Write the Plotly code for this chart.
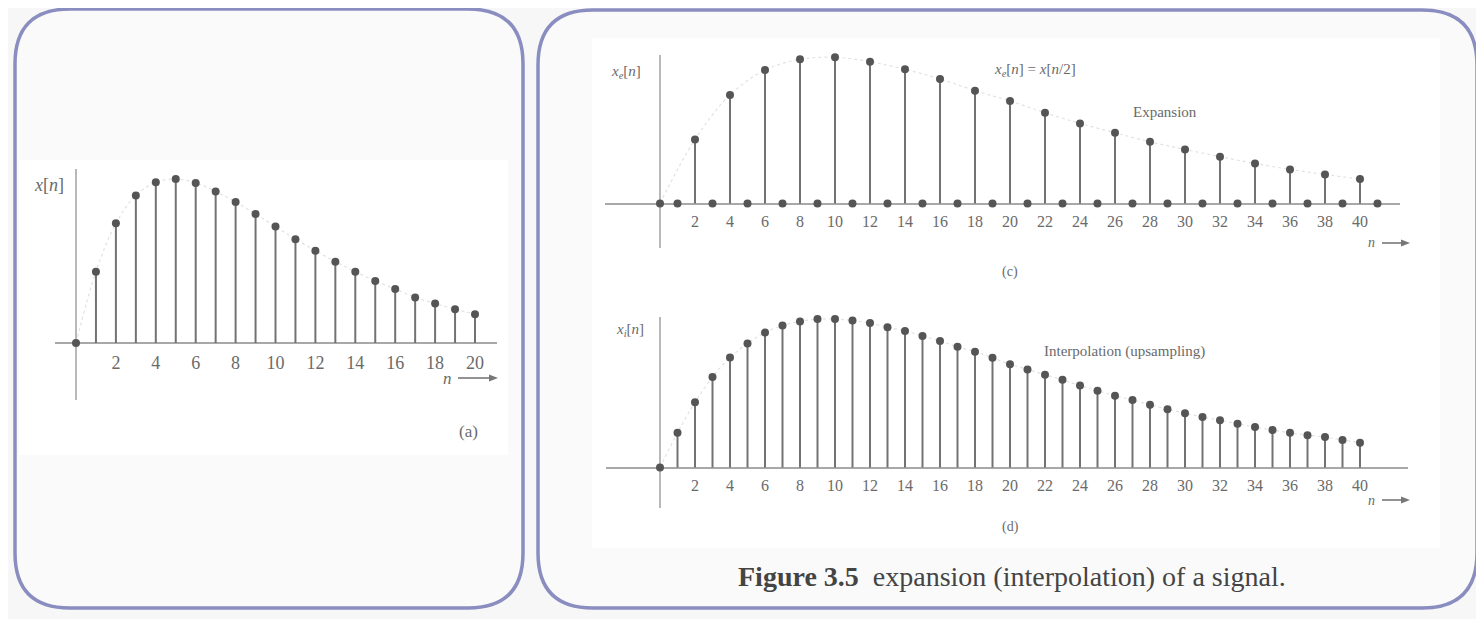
import plotly.graph_objects as go

# The page body keeps an 8 px margin, so the figure is sized to the window minus it
OFF = 8
W, H = 1484 - 2 * OFF, 627 - 2 * OFF

# ---------------- data ----------------
n_a = list(range(0, 21))
x_a = [0, 4.35, 7.30, 9.00, 9.80, 10.0, 9.76, 9.24, 8.60, 7.86, 7.10,
       6.33, 5.63, 4.96, 4.35, 3.78, 3.29, 2.78, 2.41, 2.06, 1.76]

n_c = list(range(0, 42))
x_c = [0, 0, 4.38, 0, 7.42, 0, 9.13, 0, 9.86, 0, 10.0, 0, 9.70, 0, 9.18, 0,
       8.52, 0, 7.72, 0, 7.01, 0, 6.21, 0, 5.48, 0, 4.84, 0, 4.22, 0, 3.70, 0,
       3.20, 0, 2.74, 0, 2.33, 0, 1.99, 0, 1.67, 0]

n_d = list(range(0, 41))
x_d = [0, 2.34, 4.39, 6.09, 7.41, 8.36, 9.09, 9.57, 9.84, 10.0, 10.0,
       9.91, 9.73, 9.45, 9.20, 8.86, 8.52, 8.14, 7.80, 7.39, 6.95,
       6.61, 6.25, 5.91, 5.52, 5.18, 4.84, 4.55, 4.23, 3.93, 3.66,
       3.41, 3.18, 2.95, 2.73, 2.52, 2.34, 2.18, 2.05, 1.86, 1.66]

ticks_a = list(range(2, 21, 2))
ticks_cd = list(range(2, 41, 2))
ticklabels_a = [str(t) for t in ticks_a]
ticklabels_cd = [str(t) for t in ticks_cd]

# ---------------- styling / geometry ----------------
SERIF = "Liberation Serif"
STEM = "#727272"
DOT = "#555555"
AXIS = "#a8a8a8"
TXT = "#6a6a6a"
ENV = "#e2e2e2"

panels = {
    # origin px, scale px/unit, x-domain px, y-domain px (window pixels)
    "a": dict(ox=76, oy=343, sx=19.95, sy=16.4, xd=(55, 497), yd=(169, 400), xs="x", ys="y"),
    "c": dict(ox=660, oy=203.5, sx=17.5, sy=14.62, xd=(605, 1400), yd=(55, 248), xs="x2", ys="y2"),
    "d": dict(ox=660, oy=467.5, sx=17.5, sy=14.84, xd=(606, 1408), yd=(317, 508), xs="x3", ys="y3"),
}


def px(xp):
    return (xp - OFF) / W


def py(yp):
    return 1 - (yp - OFF) / H


fig = go.Figure()


def stems(n, v, p, env_n=None, env_v=None):
    if env_n is not None:
        fig.add_trace(go.Scatter(x=env_n, y=env_v, mode="lines",
                                 line=dict(color=ENV, width=1.2, dash="dot", shape="spline"),
                                 xaxis=p["xs"], yaxis=p["ys"], hoverinfo="skip",
                                 showlegend=False, cliponaxis=False))
    sx, sy = [], []
    for k, val in zip(n, v):
        if val != 0:
            sx += [k, k, None]
            sy += [0, val, None]
    fig.add_trace(go.Scatter(x=sx, y=sy, mode="lines",
                             line=dict(color=STEM, width=2),
                             xaxis=p["xs"], yaxis=p["ys"], hoverinfo="skip",
                             showlegend=False, cliponaxis=False))
    fig.add_trace(go.Scatter(x=n, y=v, mode="markers",
                             marker=dict(color=DOT, size=8),
                             xaxis=p["xs"], yaxis=p["ys"],
                             showlegend=False, cliponaxis=False))


stems(n_a, x_a, panels["a"], env_n=n_a, env_v=x_a)
env_c_n = [k for k, v in zip(n_c, x_c) if k % 2 == 0 and k <= 40]
env_c_v = [v for k, v in zip(n_c, x_c) if k % 2 == 0 and k <= 40]
stems(n_c, x_c, panels["c"], env_n=env_c_n, env_v=env_c_v)
stems(n_d, x_d, panels["d"], env_n=n_d, env_v=x_d)

layout_axes = {}
for key, (name_x, name_y), tv, tt, fs in [
    ("a", ("xaxis", "yaxis"), ticks_a, ticklabels_a, 18),
    ("c", ("xaxis2", "yaxis2"), ticks_cd, ticklabels_cd, 16),
    ("d", ("xaxis3", "yaxis3"), ticks_cd, ticklabels_cd, 16),
]:
    p = panels[key]
    x0, x1 = p["xd"]
    y0, y1 = p["yd"]
    xr = [(x0 - p["ox"]) / p["sx"], (x1 - p["ox"]) / p["sx"]]
    yr = [(p["oy"] - y1) / p["sy"], (p["oy"] - y0) / p["sy"]]
    layout_axes[name_x] = dict(
        domain=[px(x0), px(x1)], range=xr, anchor="free", position=py(p["oy"]),
        showline=True, linecolor=AXIS, linewidth=2, showgrid=False, zeroline=False,
        tickmode="array", tickvals=tv, ticktext=tt, ticks="", ticklabelstandoff=3,
        tickfont=dict(family=SERIF, size=fs, color=TXT), fixedrange=True,
        layer="below traces",
    )
    layout_axes[name_y] = dict(
        domain=[py(y1), py(y0)], range=yr, anchor="free", position=px(p["ox"]),
        showline=True, linecolor="#b8b8b8", linewidth=1.5, showgrid=False,
        zeroline=False, showticklabels=False, ticks="", fixedrange=True,
        layer="below traces",
    )


def path_of(points, close=True):
    s = ""
    for item in points:
        cmd, coords = item[0], item[1:]
        c = []
        for i in range(0, len(coords), 2):
            c.append(f"{px(coords[i]):.5f},{py(coords[i + 1]):.5f}")
        s += cmd + " " + " ".join(c) + " "
    return s + ("Z" if close else "")


def rounded(x0, y0, x1, y1, r):
    return path_of([
        ("M", x0 + r, y0), ("L", x1 - r, y0), ("Q", x1, y0, x1, y0 + r),
        ("L", x1, y1 - r), ("Q", x1, y1, x1 - r, y1), ("L", x0 + r, y1),
        ("Q", x0, y1, x0, y1 - r), ("L", x0, y0 + r), ("Q", x0, y0, x0 + r, y0),
    ])


BORDER = "#8a8dbf"
ARROW = "#777777"
shapes = [
    dict(type="path", path=rounded(15, 9, 523, 608, 55), xref="paper", yref="paper",
         line=dict(color=BORDER, width=3.5), fillcolor="#fafafa", layer="below"),
    dict(type="path", path=rounded(538, 10, 1477, 608, 55), xref="paper", yref="paper",
         line=dict(color=BORDER, width=3.5), fillcolor="#fafafa", layer="below"),
    dict(type="rect", x0=px(19), x1=px(508), y0=py(455), y1=py(160), xref="paper",
         yref="paper", line=dict(width=0), fillcolor="white", layer="below"),
    dict(type="rect", x0=px(592), x1=px(1440), y0=py(548), y1=py(38), xref="paper",
         yref="paper", line=dict(width=0), fillcolor="white", layer="below"),
]


def arrow_shapes(x_tail, x_head, y, hl=9, hw=3.5):
    return [
        dict(type="line", x0=px(x_tail), x1=px(x_head - hl + 1), y0=py(y), y1=py(y),
             xref="paper", yref="paper", line=dict(color=ARROW, width=1.6)),
        dict(type="path", path=path_of([("M", x_head, y), ("L", x_head - hl, y - hw),
                                        ("L", x_head - hl, y + hw)]),
             xref="paper", yref="paper", line=dict(width=0), fillcolor=ARROW),
    ]


shapes += arrow_shapes(458, 498, 378)
shapes += arrow_shapes(1382, 1410, 243)
shapes += arrow_shapes(1382, 1410, 500)


def ann(x, y, text, size=16, color=TXT, xanchor="center", **kw):
    return dict(x=px(x), y=py(y), xref="paper", yref="paper", text=text, showarrow=False,
                xanchor=xanchor, yanchor="middle",
                font=dict(family=SERIF, size=size, color=color), **kw)


annotations = [
    # panel (a)
    ann(49, 185, "<i>x</i>[<i>n</i>]", size=18),
    ann(447, 378, "<i>n</i>", size=17),
    ann(468, 432, "(a)", size=17),
    # panel (c)
    ann(626, 72, "<i>x</i><sub><i>e</i></sub>[<i>n</i>]", size=15),
    ann(1035, 70, "<i>x</i><sub><i>e</i></sub>[<i>n</i>] = <i>x</i>[<i>n</i>/2]", size=15),
    ann(1165, 112, "Expansion", size=15),
    ann(1371, 243, "<i>n</i>", size=14),
    ann(1010, 272, "(c)", size=14),
    # panel (d)
    ann(630, 330, "<i>x</i><sub><i>i</i></sub>[<i>n</i>]", size=15),
    ann(1124, 351, "Interpolation (upsampling)", size=15),
    ann(1371, 500, "<i>n</i>", size=14),
    ann(1010, 527, "(d)", size=14),
    # caption
    ann(1012, 576, "<b>Figure 3.5</b>\u00a0\u00a0expansion (interpolation) of a signal.",
        size=28, color="#444444"),
]

fig.update_layout(
    width=W, height=H, margin=dict(l=0, r=0, t=0, b=0),
    paper_bgcolor="#f7f7f7", plot_bgcolor="rgba(0,0,0,0)",
    showlegend=False, shapes=shapes, annotations=annotations,
    **layout_axes,
)

fig.write_html("out.html")
